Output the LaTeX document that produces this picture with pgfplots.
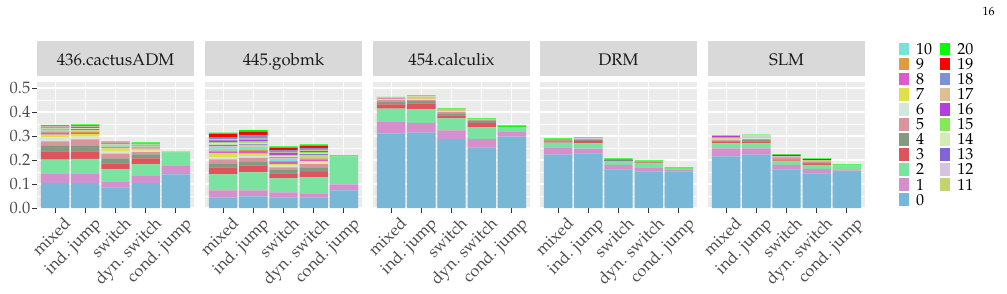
\documentclass[border=0pt]{standalone}
\usepackage[T1]{fontenc}
\usepackage{mathpazo}
\usepackage{pgfplots}
\usepackage{pgfplotstable}
\pgfplotsset{compat=1.18}

% ggplot-like theme colours
\definecolor{ggpanel}{HTML}{EBEBEB}
\definecolor{ggstrip}{HTML}{D9D9D9}
\definecolor{grey10}{HTML}{1A1A1A}
\definecolor{grey20}{HTML}{333333}
\definecolor{grey30}{HTML}{4D4D4D}

% segment fills, 0 at the bottom of each stack
\definecolor{c0}{RGB}{120,184,214}
\definecolor{c1}{RGB}{214,143,205}
\definecolor{c2}{RGB}{122,227,160}
\definecolor{c3}{RGB}{223,84,92}
\definecolor{c4}{RGB}{130,154,128}
\definecolor{c5}{RGB}{217,149,155}
\definecolor{c6}{RGB}{213,230,223}
\definecolor{c7}{RGB}{226,224,74}
\definecolor{c8}{RGB}{221,92,203}
\definecolor{c9}{RGB}{222,156,67}
\definecolor{c10}{RGB}{118,227,219}
\definecolor{c11}{RGB}{195,212,110}
\definecolor{c12}{RGB}{213,197,220}
\definecolor{c13}{RGB}{128,102,213}
\definecolor{c14}{RGB}{212,235,179}
\definecolor{c15}{RGB}{132,232,88}
\definecolor{c16}{RGB}{180,62,224}
\definecolor{c17}{RGB}{222,191,147}
\definecolor{c18}{RGB}{123,147,214}
\definecolor{c19}{RGB}{255,0,0}
\definecolor{c20}{RGB}{0,255,0}

\newcommand\ticksize{\fontsize{16.5bp}{19bp}\selectfont}
\newcommand\stripsize{\fontsize{16.8bp}{20bp}\selectfont}
\newcommand\legsize{\fontsize{16bp}{19bp}\selectfont}

% rows: mixed, ind. jump, switch, dyn. switch, cond. jump
\pgfplotstableread{
x c0 c1 c2 c3 c4 c5 c6 c7 c8 c9 c10 c11 c12 c13 c14 c15 c16 c17 c18 c19 c20
0 0.105 0.039 0.058 0.034 0.025 0.017 0.017 0.011 0.008 0.003 0.005 0.003 0.002 0.003 0.002 0.003 0.003 0.002 0.002 0.001 0.003
1 0.105 0.039 0.061 0.031 0.025 0.025 0.011 0.011 0.005 0.003 0.004 0.003 0.003 0.003 0.003 0.002 0.004 0.002 0.003 0.002 0.003
2 0.086 0.025 0.050 0.025 0.021 0.020 0.011 0.010 0.003 0.004 0.002 0.002 0.002 0.002 0.002 0.002 0.002 0.003 0.001 0.002 0.002
3 0.105 0.031 0.046 0.025 0.016 0.010 0.006 0.008 0.004 0.002 0.003 0.002 0.002 0.002 0.002 0.001 0.002 0.001 0.001 0.001 0.003
4 0.140 0.034 0.058 0 0 0 0 0 0 0 0 0 0 0 0 0 0 0 0 0 0.003
}\tabcactus

\pgfplotstableread{
x c0 c1 c2 c3 c4 c5 c6 c7 c8 c9 c10 c11 c12 c13 c14 c15 c16 c17 c18 c19 c20
0 0.043 0.030 0.067 0.029 0.017 0.0165 0.008 0.018 0.004 0.007 0.009 0.006 0.004 0.004 0.007 0.004 0.008 0.004 0.008 0.014 0.007
1 0.048 0.025 0.075 0.030 0.016 0.015 0.008 0.010 0.010 0.006 0.008 0.006 0.004 0.004 0.006 0.008 0.006 0.004 0.016 0.012 0.008
2 0.043 0.022 0.058 0.021 0.014 0.011 0.008 0.006 0.008 0.004 0.005 0.004 0.004 0.003 0.0065 0.004 0.008 0.004 0.008 0.008 0.007
3 0.043 0.018 0.0665 0.0225 0.019 0.014 0.006 0.006 0.008 0.004 0.004 0.006 0.004 0.003 0.005 0.004 0.004 0.005 0.008 0.008 0.007
4 0.073 0.025 0.117 0 0 0 0 0 0 0 0 0 0 0 0 0 0 0 0 0 0.004
}\tabgobmk

\pgfplotstableread{
x c0 c1 c2 c3 c4 c5 c6 c7 c8 c9 c10 c11 c12 c13 c14 c15 c16 c17 c18 c19 c20
0 0.311 0.050 0.053 0.018 0.009 0.009 0.003 0.002 0.002 0.001 0.001 0.001 0.001 0 0 0 0 0 0 0 0.0025
1 0.314 0.041 0.056 0.025 0.0095 0.0055 0.002 0.004 0.001 0.002 0.001 0.002 0.001 0 0.001 0 0 0.001 0 0 0.003
2 0.2885 0.0345 0.0505 0.0125 0.008 0.006 0.003 0.003 0.001 0.003 0.001 0.001 0 0 0 0 0 0.001 0 0 0.002
3 0.2525 0.036 0.0475 0.018 0.008 0.0045 0.001 0.001 0 0.002 0 0 0 0 0 0 0 0 0 0 0.003
4 0.297 0.022 0.0195 0 0 0 0 0 0 0 0 0 0 0 0 0 0 0 0 0 0.0055
}\tabcalculix

\pgfplotstableread{
x c0 c1 c2 c3 c4 c5 c6 c7 c8 c9 c10 c11 c12 c13 c14 c15 c16 c17 c18 c19 c20
0 0.222 0.0305 0.0195 0.0055 0.0025 0.003 0 0.002 0 0.002 0 0 0 0 0 0 0 0 0 0 0.003
1 0.2275 0.0195 0.022 0.011 0.0045 0.002 0.002 0 0 0 0 0 0.0015 0 0 0 0 0 0.001 0 0.003
2 0.161 0.019 0.014 0.002 0.002 0 0 0 0 0 0 0 0 0.003 0 0 0 0 0.003 0 0.0025
3 0.1525 0.0165 0.017 0.004 0 0.0028 0 0 0 0 0 0 0 0 0 0 0 0 0 0 0.0055
4 0.1525 0.0085 0.003 0 0 0 0 0 0 0 0 0 0 0 0 0 0 0 0 0 0.0055
}\tabdrm

\pgfplotstableread{
x c0 c1 c2 c3 c4 c5 c6 c7 c8 c9 c10 c11 c12 c13 c14 c15 c16 c17 c18 c19 c20
0 0.215 0.033 0.021 0.0085 0.003 0.004 0.002 0.004 0.003 0.001 0.001 0 0 0.001 0 0 0.002 0 0.001 0 0.003
1 0.222 0.026 0.021 0.0085 0.0055 0.004 0.005 0.002 0 0 0 0.002 0.002 0 0.004 0 0 0.001 0 0 0.003
2 0.161 0.019 0.014 0.004 0.003 0.010 0 0 0.002 0 0 0 0.002 0 0 0 0 0.002 0 0.004 0.002
3 0.144 0.0195 0.0165 0.004 0.004 0.006 0.002 0 0 0.002 0 0 0 0 0 0 0 0.002 0 0.004 0.003
4 0.1495 0.007 0.021 0 0 0 0 0 0 0 0 0 0 0 0 0 0 0 0 0 0.004
}\tabslm

% one stacked bar per row, segments 0..20
\newcommand\stackbars[1]{%
  \pgfplotsinvokeforeach{0,...,20}{%
    \addplot[fill=c##1, draw=none, forget plot] table[x=x, y=c##1] {#1};}}

\pgfplotsset{
  facet/.style={
    scale only axis, width=157bp, height=126bp, anchor=south west,
    ybar stacked, bar width=0.94,
    xmin=-0.6, xmax=4.6, ymin=0, ymax=0.525,
    axis background/.style={fill=ggpanel},
    axis x line*=bottom, axis y line*=left,
    axis line style={draw=none},
    xtick={0,1,2,3,4},
    xticklabels={mixed, ind. jump, switch, dyn. switch, cond. jump},
    ytick={0,0.1,0.2,0.3,0.4,0.5},
    minor ytick={0.05,0.15,0.25,0.35,0.45},
    xmajorgrids, ymajorgrids, yminorgrids,
    major grid style={white, line width=1.1bp},
    minor grid style={white, line width=0.55bp},
    tick align=outside, major tick length=4.5bp, minor tick length=0pt,
    tick style={grey20, line width=0.9bp},
    x tick label style={xshift=8bp, yshift=-1bp, rotate=45, anchor=north east,
      font=\ticksize, text=grey30, inner sep=1.5bp},
    y tick label style={font=\ticksize, text=grey30, inner xsep=2bp,
      /pgf/number format/.cd, fixed, fixed zerofill, precision=1},
    title style={at={(0.5,1)}, anchor=south, yshift=0pt, fill=ggstrip,
      minimum width=157bp, minimum height=35bp, inner sep=0pt,
      text height=14.6bp, text depth=0pt, font=\stripsize, text=grey10},
  },
  inner facet/.style={facet, yticklabels={}, major y tick style={draw=none}},
  keyimg/.style={legend image code/.code={%
      \path[##1, draw=none] (0bp,-1bp) rectangle (10bp,11.7bp);
      \path (16.7bp,0bp);}},
}

\begin{document}
\begin{tikzpicture}
\path[use as bounding box] (0,0) rectangle (1007bp,294bp);

\begin{axis}[facet, at={(37bp,86bp)}, title={436.cactusADM}]
  \stackbars{\tabcactus}
\end{axis}

\begin{axis}[inner facet, at={(205bp,86bp)}, title={445.gobmk}]
  \stackbars{\tabgobmk}
\end{axis}

\begin{axis}[inner facet, at={(373bp,86bp)}, title={454.calculix}]
  \stackbars{\tabcalculix}
\end{axis}

\begin{axis}[inner facet, at={(540bp,86bp)}, title={DRM}]
  \stackbars{\tabdrm}
\end{axis}

\begin{axis}[inner facet, at={(708bp,86bp)}, title={SLM},
    legend columns=2,
    legend style={at={(1.2166,1.3147)}, anchor=north west, draw=none,
      fill=none, inner sep=0pt, column sep=0pt, row sep=1.9bp,
      font=\legsize,
      nodes={inner sep=0pt, anchor=base west, text width=24.3bp, align=left}}]
  \stackbars{\tabslm}
  \addlegendimage{keyimg, fill=c10}\addlegendentry{10}
  \addlegendimage{keyimg, fill=c20}\addlegendentry{20}
  \addlegendimage{keyimg, fill=c9}\addlegendentry{9}
  \addlegendimage{keyimg, fill=c19}\addlegendentry{19}
  \addlegendimage{keyimg, fill=c8}\addlegendentry{8}
  \addlegendimage{keyimg, fill=c18}\addlegendentry{18}
  \addlegendimage{keyimg, fill=c7}\addlegendentry{7}
  \addlegendimage{keyimg, fill=c17}\addlegendentry{17}
  \addlegendimage{keyimg, fill=c6}\addlegendentry{6}
  \addlegendimage{keyimg, fill=c16}\addlegendentry{16}
  \addlegendimage{keyimg, fill=c5}\addlegendentry{5}
  \addlegendimage{keyimg, fill=c15}\addlegendentry{15}
  \addlegendimage{keyimg, fill=c4}\addlegendentry{4}
  \addlegendimage{keyimg, fill=c14}\addlegendentry{14}
  \addlegendimage{keyimg, fill=c3}\addlegendentry{3}
  \addlegendimage{keyimg, fill=c13}\addlegendentry{13}
  \addlegendimage{keyimg, fill=c2}\addlegendentry{2}
  \addlegendimage{keyimg, fill=c12}\addlegendentry{12}
  \addlegendimage{keyimg, fill=c1}\addlegendentry{1}
  \addlegendimage{keyimg, fill=c11}\addlegendentry{11}
  \addlegendimage{keyimg, fill=c0}\addlegendentry{0}
\end{axis}

\node[font=\fontsize{12bp}{14bp}\selectfont] at (988.5bp,282.5bp) {16};
\end{tikzpicture}
\end{document}
